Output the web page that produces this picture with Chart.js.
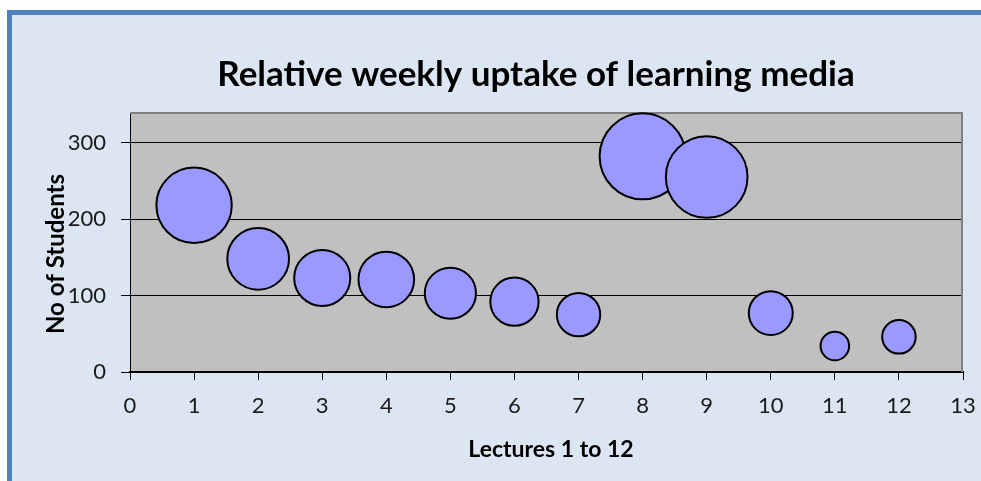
<!DOCTYPE html>
<html>
<head>
<meta charset="utf-8">
<script src="https://cdn.jsdelivr.net/npm/chart.js@4/dist/chart.umd.min.js"></script>
<style>
  html, body { margin: 0; padding: 0; background: #ffffff; overflow: hidden; }
  #frame {
    position: absolute; left: 7px; top: 10px;
    width: 1000px; height: 500px;
    border-left: 5px solid #4f81bd; border-top: 5px solid #4f81bd;
    background: #dce6f2;
  }
  #wrap { position: absolute; left: 0; top: 0; width: 981px; height: 481px; }
</style>
</head>
<body>
<div id="frame"></div>
<div id="wrap"><canvas id="chart" width="981" height="481"></canvas></div>
<script>
// --- data ---
const lectures = [1, 2, 3, 4, 5, 6, 7, 8, 9, 10, 11, 12];
const students = [218, 148, 123, 121, 103, 92, 75, 282, 255, 77, 34, 46];
const bubbleSize = [218, 148, 123, 121, 103, 92, 75, 282, 255, 77, 34, 46];
const xTicks = [0, 1, 2, 3, 4, 5, 6, 7, 8, 9, 10, 11, 12, 13];
const yTicks = [0, 100, 200, 300];

const chartTitle = "Relative weekly uptake of learning media";
const xTitle = "Lectures 1 to 12";
const yTitle = "No of Students";

const FONT = "Lato, 'Open Sans', sans-serif";

const points = lectures.map((x, i) => ({
    x: x,
    y: students[i],
    r: 2.62 * Math.sqrt(bubbleSize[i]) - 1
}));

// gray plot area, frame lines and the titles
const plotDecor = {
    id: "plotDecor",
    beforeDraw(chart) {
        const a = chart.chartArea;
        const c = chart.ctx;
        c.save();
        c.fillStyle = "#c0c0c0";
        c.fillRect(a.left, a.top, a.right - a.left, a.bottom - a.top);
        c.restore();
    },
    beforeDatasetsDraw(chart) {
        const a = chart.chartArea;
        const c = chart.ctx;
        c.save();
        c.strokeStyle = "#808080";
        c.lineWidth = 2;
        c.beginPath();
        c.moveTo(a.left, a.top + 1);
        c.lineTo(a.right - 1, a.top + 1);
        c.lineTo(a.right - 1, a.bottom);
        c.stroke();
        c.restore();
    },
    afterDraw(chart) {
        const c = chart.ctx;
        c.save();
        c.fillStyle = "#000000";
        c.textAlign = "center";
        c.textBaseline = "alphabetic";
        c.font = "bold 35px " + FONT;
        c.fillText(chartTitle, 536, 86);
        c.font = "bold 23px " + FONT;
        c.fillText(xTitle, 551, 457);
        c.font = "bold 24px " + FONT;
        c.translate(64, 254);
        c.rotate(-Math.PI / 2);
        c.fillText(yTitle, 0, 0);
        c.restore();
    }
};

new Chart(document.getElementById("chart"), {
    type: "bubble",
    data: {
        datasets: [{
            label: "Students",
            data: points,
            backgroundColor: "#9999ff",
            borderColor: "#000000",
            borderWidth: 2,
            hoverBorderWidth: 2
        }]
    },
    options: {
        responsive: false,
        animation: false,
        events: [],
        layout: { autoPadding: false, padding: { left: 0, right: 18, top: 112, bottom: 0 } },
        plugins: {
            legend: { display: false },
            title: { display: false },
            tooltip: { enabled: false }
        },
        scales: {
            x: {
                type: "linear",
                min: 0, max: 13,
                afterBuildTicks: (s) => { s.ticks = xTicks.map(v => ({ value: v })); },
                afterFit: (s) => { s.height = 109; s.paddingLeft = 0; s.paddingRight = 0; },
                border: { display: true, color: "#000000", width: 2 },
                grid: { drawOnChartArea: false, drawTicks: true, tickLength: 8, color: "#000000", lineWidth: 1 },
                ticks: { padding: 13, color: "#1a1a1a", font: { family: FONT, size: 22 }, maxRotation: 0, autoSkip: false }
            },
            y: {
                min: 0, max: 340,
                afterBuildTicks: (s) => { s.ticks = yTicks.map(v => ({ value: v })); },
                afterFit: (s) => { s.width = 130; s.paddingTop = 0; s.paddingBottom = 0; },
                border: { display: true, color: "#000000", width: 1 },
                grid: { drawOnChartArea: true, drawTicks: true, tickLength: 9, color: "#000000", lineWidth: 1 },
                ticks: { padding: 15, color: "#1a1a1a", font: { family: FONT, size: 22 }, autoSkip: false }
            }
        }
    },
    plugins: [plotDecor]
});
</script>
</body>
</html>
